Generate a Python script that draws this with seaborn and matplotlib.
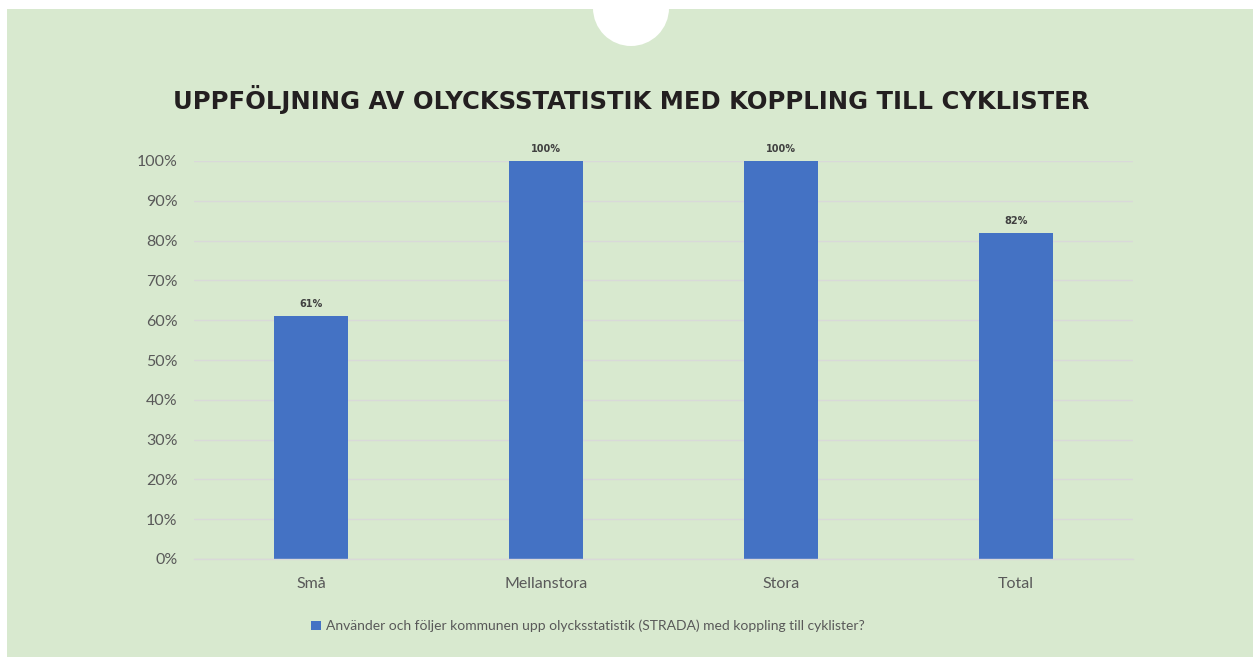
import matplotlib
matplotlib.use("Agg")
import matplotlib.pyplot as plt
import seaborn as sns
import pandas as pd
from matplotlib.patches import Circle, Rectangle, Patch

# data
categories = ["Små", "Mellanstora", "Stora", "Total"]
values = [0.61, 1.00, 1.00, 0.82]
value_labels = ["61%", "100%", "100%", "82%"]
series_name = "Använder och följer kommunen upp olycksstatistik (STRADA) med koppling till cyklister?"
title = "UPPFÖLJNING AV OLYCKSSTATISTIK MED KOPPLING TILL CYKLISTER"
yticks = [0, 0.1, 0.2, 0.3, 0.4, 0.5, 0.6, 0.7, 0.8, 0.9, 1.0]
ytick_labels = ["0%", "10%", "20%", "30%", "40%", "50%", "60%", "70%", "80%", "90%", "100%"]

BG = "#d8e9cf"
BAR = "#4472c4"
GRID = "#d9d9d9"
TXT = "#595959"

sns.set_theme(style="white")
plt.rcParams["font.family"] = ["Lato", "DejaVu Sans"]

df = pd.DataFrame({"category": categories, "value": values})

fig = plt.figure(figsize=(12.53, 6.57), dpi=100)
fig.patch.set_facecolor("white")

# green card behind the chart, with the white notch at the top
W, H = 1253, 657
fig.patches.append(Rectangle((7 / W, 0), (W - 7) / W, (H - 9) / H,
                             transform=fig.transFigure, facecolor=BG,
                             edgecolor="none", zorder=-2))
fig.patches.append(Circle((631, H - 8), 38, transform=None,
                          facecolor="white", edgecolor="none", zorder=-1))

ax = fig.add_axes([194 / W, (H - 559) / H, (1133 - 194) / W, (559 - 161) / H])
ax.set_zorder(2)
ax.set_facecolor("none")

sns.barplot(data=df, x="category", y="value", color=BAR, width=0.315,
            saturation=1, linewidth=0, ax=ax, zorder=3)

ax.set_ylim(0, 1)
ax.set_xlim(-0.5, 3.5)
ax.set_yticks(yticks)
ax.set_yticklabels(ytick_labels)
ax.set_xlabel("")
ax.set_ylabel("")
ax.yaxis.grid(True, color=GRID, linewidth=1, zorder=0)
ax.set_axisbelow(True)
for s in ["top", "right", "left"]:
    ax.spines[s].set_visible(False)
ax.spines["bottom"].set_color(GRID)
ax.spines["bottom"].set_linewidth(1)
ax.spines["bottom"].set_zorder(4)
ax.tick_params(axis="y", length=0, pad=12, labelsize=11.5, labelcolor=TXT)
ax.tick_params(axis="x", length=0, pad=13, labelsize=11.5, labelcolor=TXT)

for i, lab in enumerate(value_labels):
    ax.annotate(lab, (i, values[i]), xytext=(0, 5), textcoords="offset points",
                ha="center", va="bottom", fontsize=7, fontweight="bold",
                color="#404040", fontfamily=["DejaVu Sans"])

fig.text(631 / W, 1 - 100 / H, title, ha="center", va="center",
         fontsize=17.5, fontweight="heavy", color="#231f20",
         fontfamily=["DejaVu Sans"])

handles = [Patch(facecolor=BAR, edgecolor="none", label=series_name)]
leg = fig.legend(handles=handles, loc="center", bbox_to_anchor=(588 / W, 1 - 626 / H),
                 frameon=False, fontsize=10, handlelength=0.7, handleheight=0.7,
                 handletextpad=0.4)
for t in leg.get_texts():
    t.set_color(TXT)

fig.savefig("out.png", dpi=100, facecolor=fig.get_facecolor())
